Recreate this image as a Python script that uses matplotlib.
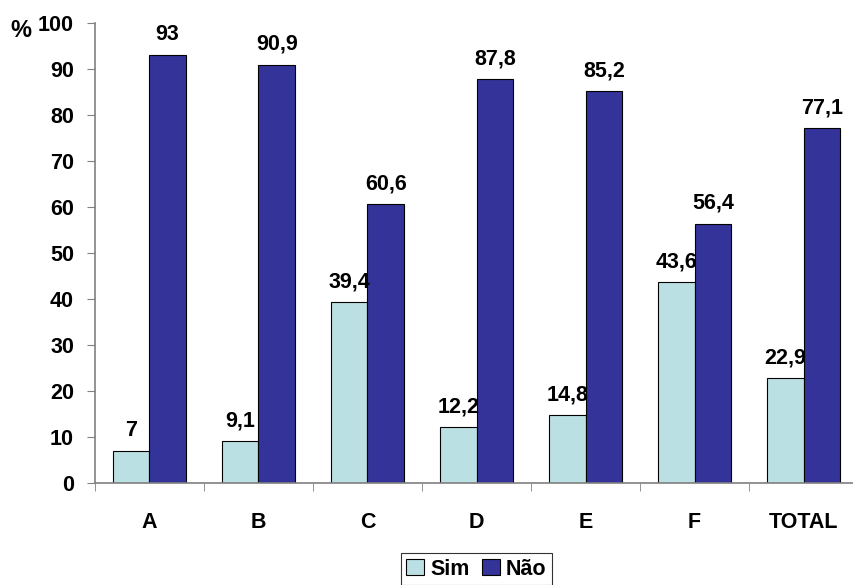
import matplotlib.pyplot as plt
import numpy as np

plt.rcParams['font.family'] = ['Liberation Sans', 'DejaVu Sans']
plt.rcParams['font.weight'] = 'bold'

categorias = ['A', 'B', 'C', 'D', 'E', 'F', 'TOTAL']
sim = [7, 9.1, 39.4, 12.2, 14.8, 43.6, 22.9]
nao = [93, 90.9, 60.6, 87.8, 85.2, 56.4, 77.1]

cor_sim = '#BBE0E3'
cor_nao = '#333399'
fs = 15.5

fig = plt.figure(figsize=(8.54, 5.85), dpi=100)
ax = fig.add_axes([0.111, 0.174, 0.894, 0.787])

x = np.arange(len(categorias))
w = 0.335

b1 = ax.bar(x - w / 2, sim, w, color=cor_sim, edgecolor='black', linewidth=0.8, label='Sim')
b2 = ax.bar(x + w / 2, nao, w, color=cor_nao, edgecolor='black', linewidth=0.8, label='Não')

def fmt(v):
    s = ('%.1f' % v).rstrip('0').rstrip('.')
    return s.replace('.', ',')

for bars, vals in ((b1, sim), (b2, nao)):
    for b, v in zip(bars, vals):
        ax.annotate(fmt(v), (b.get_x() + b.get_width() / 2, v),
                    xytext=(0, 7), textcoords='offset points',
                    ha='center', va='bottom', fontsize=fs, fontweight='bold')

ax.set_xlim(-0.5, len(categorias) - 0.5)
ax.set_ylim(0, 100)
ax.set_yticks(range(0, 101, 10))
ax.set_xticks(x)
ax.set_xticklabels(categorias)
ax.set_xticks(np.arange(-0.5, len(categorias), 1), minor=True)

for s in ('top', 'right'):
    ax.spines[s].set_visible(False)
for s in ('left', 'bottom'):
    ax.spines[s].set_color('#808080')
    ax.spines[s].set_linewidth(1.2)

ax.tick_params(axis='y', direction='out', length=6, color='#808080', labelsize=fs, pad=9)
ax.tick_params(axis='x', which='major', length=0, labelsize=fs, pad=21)
ax.tick_params(axis='x', which='minor', direction='out', length=6, color='#808080')

fig.text(0.012, 0.948, '%', fontsize=17, fontweight='bold', ha='left', va='center')

leg = ax.legend(loc='upper center', bbox_to_anchor=(0.5, -0.152), ncol=2,
                frameon=True, fancybox=False, edgecolor='black',
                fontsize=fs, handlelength=0.8, handleheight=0.8,
                handletextpad=0.3, columnspacing=0.6, borderpad=0.25,
                borderaxespad=0)
leg.get_frame().set_linewidth(0.8)

fig.savefig('out.png', dpi=100)
